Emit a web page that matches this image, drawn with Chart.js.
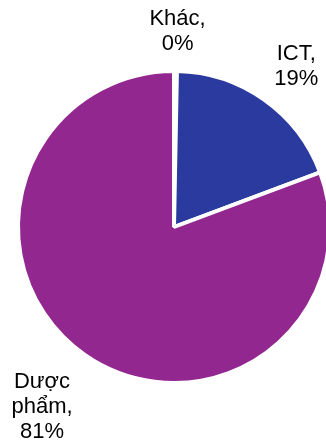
<!DOCTYPE html>
<html lang="vi">
<head>
  <meta charset="UTF-8" />
  <title>Cơ cấu</title>
  <script src="https://cdn.jsdelivr.net/npm/chart.js"></script>
  <style>
    html, body {
      margin: 0;
      background: #fff;
      overflow: hidden;
    }
    .wrap {
      width: 340px;
      height: 448px;
      position: relative;
    }
  </style>
</head>
<body>
  <div class="wrap"><canvas id="pie"></canvas></div>
  <script>
    const categories = ['Khác', 'ICT', 'Dược phẩm'];
    const labelLines = [['Khác,', '0%'], ['ICT,', '19%'], ['Dược', 'phẩm,', '81%']];
    const shares = [0.3, 19, 80.7];
    const colors = ['#ffffff', '#2b3a9e', '#92278f'];

    // labels outside each slice
    const outsideLabels = {
      id: 'outsideLabels',
      afterDraw(chart) {
        const ctx = chart.ctx;
        const arcs = chart.getDatasetMeta(0).data;
        const dist = [1.27, 1.31, 1.45];
        const nudge = [0.5, 2, 1.5]; // degrees
        ctx.save();
        ctx.font = '22px "Liberation Sans", Arial, sans-serif';
        ctx.fillStyle = '#000';
        ctx.textAlign = 'center';
        ctx.textBaseline = 'middle';
        arcs.forEach((arc, i) => {
          const mid = (arc.startAngle + arc.endAngle) / 2 + nudge[i] * Math.PI / 180;
          const r = (arc.outerRadius - 2) * dist[i];
          const x = arc.x + Math.cos(mid) * r;
          const y = arc.y + Math.sin(mid) * r;
          const lines = labelLines[i];
          const lh = 25;
          lines.forEach((t, k) => {
            ctx.fillText(t, x, y + (k - (lines.length - 1) / 2) * lh);
          });
        });
        ctx.restore();
      }
    };

    new Chart(document.getElementById('pie'), {
      type: 'pie',
      data: {
        labels: categories,
        datasets: [{
          data: shares,
          backgroundColor: colors,
          borderColor: '#ffffff',
          borderWidth: 4
        }]
      },
      options: {
        responsive: true,
        maintainAspectRatio: false,
        animation: false,
        layout: { padding: { left: 16, right: 8, top: 69, bottom: 63 } },
        plugins: {
          legend: { display: false },
          tooltip: { enabled: false }
        }
      },
      plugins: [outsideLabels]
    });
  </script>
</body>
</html>
